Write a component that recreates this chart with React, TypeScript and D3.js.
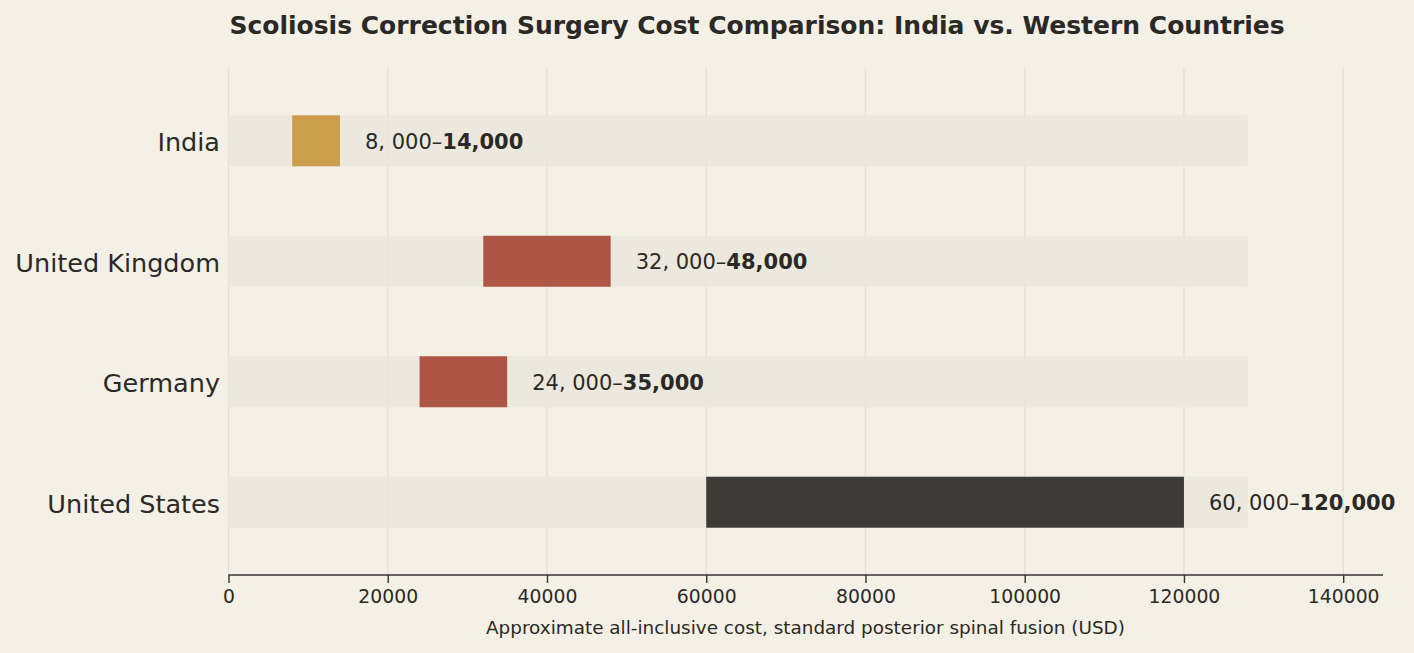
import { useEffect, useRef } from "react";
import * as d3 from "d3";

const countries = ["India", "United Kingdom", "Germany", "United States"];
const lowCost = [8000, 32000, 24000, 60000];
const highCost = [14000, 48000, 35000, 120000];
const lowLabels = ["8, 000–", "32, 000–", "24, 000–", "60, 000–"];
const highLabels = ["14,000", "48,000", "35,000", "120,000"];
const barColors = ["#cc9d4b", "#ad5646", "#ad5646", "#3c3b37"];
const xTicks = [0, 20000, 40000, 60000, 80000, 100000, 120000, 140000];
const trackMax = 128000;

const W = 1414;
const H = 653;
const FONT = "'DejaVu Sans', sans-serif";
const INK = "#2b2926";

export default function App(): JSX.Element {
  const ref = useRef<SVGSVGElement | null>(null);

  useEffect(() => {
    if (!ref.current) return;
    const svg = d3.select(ref.current);
    svg.selectAll("*").remove();

    const top = 68;
    const bottom = 575;
    const x = d3.scaleLinear().domain([0, 145000]).range([228.5, 1383]);
    const y = d3.scalePoint<string>().domain(countries).range([top, bottom]).padding(0.604);
    const barH = y.step() * 0.423;

    svg.append("rect").attr("width", W).attr("height", H).attr("fill", "#f4f0e6");

    // title
    svg
      .append("text")
      .attr("x", 757)
      .attr("y", 34)
      .attr("text-anchor", "middle")
      .attr("font-family", FONT)
      .attr("font-weight", "bold")
      .attr("font-size", 25)
      .attr("fill", INK)
      .text("Scoliosis Correction Surgery Cost Comparison: India vs. Western Countries");

    // vertical grid
    svg
      .append("g")
      .selectAll("line")
      .data(xTicks)
      .join("line")
      .attr("x1", (d) => x(d))
      .attr("x2", (d) => x(d))
      .attr("y1", top)
      .attr("y2", bottom)
      .attr("stroke", "#e4dfd4")
      .attr("stroke-width", 1.2);

    const rows = countries.map((c, i) => ({ c, i }));

    // background tracks
    svg
      .append("g")
      .selectAll("rect")
      .data(rows)
      .join("rect")
      .attr("x", x(0))
      .attr("y", (d) => y(d.c)! - barH / 2)
      .attr("width", x(trackMax) - x(0))
      .attr("height", barH)
      .attr("fill", "#ebe7dc")
      .attr("fill-opacity", 0.9);

    // cost range bars
    svg
      .append("g")
      .selectAll("rect")
      .data(rows)
      .join("rect")
      .attr("x", (d) => x(lowCost[d.i]))
      .attr("y", (d) => y(d.c)! - barH / 2)
      .attr("width", (d) => x(highCost[d.i]) - x(lowCost[d.i]))
      .attr("height", barH)
      .attr("fill", (d) => barColors[d.i]);

    // value labels
    const vt = svg
      .append("g")
      .selectAll("text")
      .data(rows)
      .join("text")
      .attr("x", (d) => x(highCost[d.i]) + 25)
      .attr("y", (d) => y(d.c)!)
      .attr("dy", "0.38em")
      .attr("font-family", FONT)
      .attr("font-size", 21)
      .attr("fill", INK);
    vt.append("tspan").text((d) => lowLabels[d.i]);
    vt.append("tspan")
      .attr("font-weight", "bold")
      .text((d) => highLabels[d.i]);

    // country labels
    svg
      .append("g")
      .selectAll("text")
      .data(rows)
      .join("text")
      .attr("x", 220)
      .attr("y", (d) => y(d.c)!)
      .attr("dy", "0.42em")
      .attr("text-anchor", "end")
      .attr("font-family", FONT)
      .attr("font-size", 25.5)
      .attr("fill", INK)
      .text((d) => d.c);

    // x axis
    const axis = svg
      .append("g")
      .attr("transform", `translate(0,${bottom})`)
      .call(d3.axisBottom(x).tickValues(xTicks).tickFormat(d3.format("d")).tickSize(8).tickPadding(7));
    axis.select(".domain").attr("stroke", "#333").attr("stroke-width", 1.6).attr("d", `M${x(0)},0H1383`);
    axis.selectAll(".tick line").attr("stroke", "#333").attr("stroke-width", 1.4);
    axis
      .selectAll(".tick text")
      .attr("font-family", FONT)
      .attr("font-size", 18.8)
      .attr("fill", INK);

    svg
      .append("text")
      .attr("x", 805.5)
      .attr("y", 634)
      .attr("text-anchor", "middle")
      .attr("font-family", FONT)
      .attr("font-size", 18.4)
      .attr("fill", INK)
      .text("Approximate all-inclusive cost, standard posterior spinal fusion (USD)");
  }, []);

  return (
    <svg
      ref={ref}
      width={W}
      height={H}
      style={{ display: "block", position: "absolute", left: 0, top: 0 }}
    />
  );
}
